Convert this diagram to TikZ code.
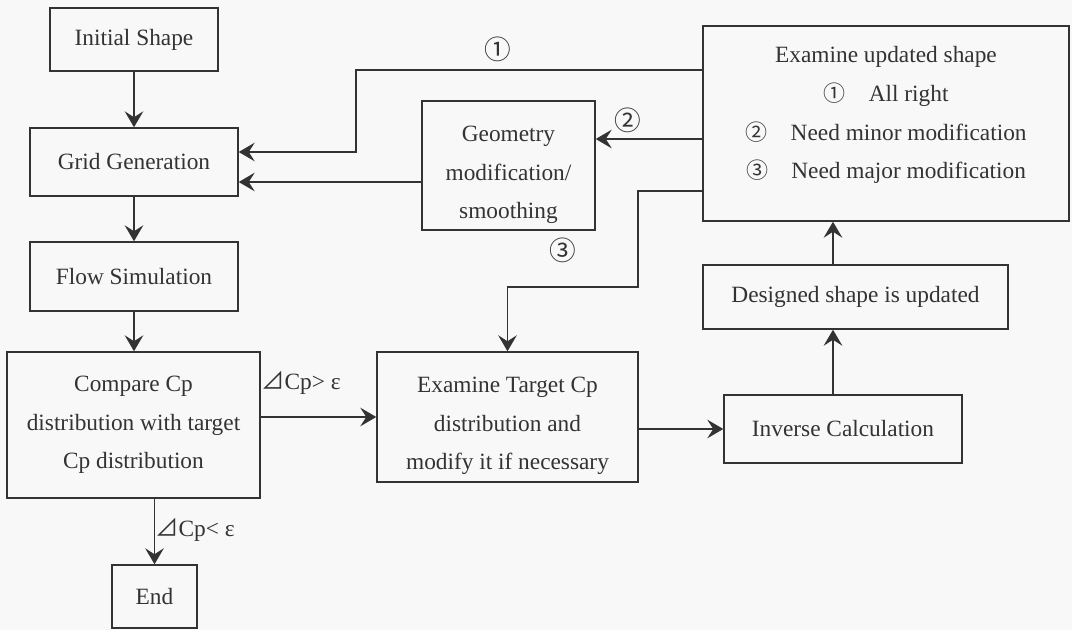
\documentclass[tikz,border=0pt]{standalone}
\usepackage{fontspec}
\setmainfont{Liberation Serif}
\newfontfamily\cjk{Noto Sans CJK SC}
\usetikzlibrary{arrows.meta}
\definecolor{ink}{HTML}{333333}
\definecolor{paper}{HTML}{F8F8F8}
\newcommand{\circd}[1]{{\cjk\fontsize{16.5}{16.5}\selectfont #1}}
\begin{document}
\begin{tikzpicture}[x=0.75pt,y=-0.75pt,
  box/.style={draw=ink, line width=1.1pt, text=ink, align=center, inner sep=0pt,
    font=\fontsize{17.5}{29}\selectfont},
  flowline/.style={draw=ink, line width=1.1pt},
  flowarrow/.style={flowline, -{Stealth[length=12pt,width=14pt,inset=4.5pt]}},
  lab/.style={text=ink, inner sep=0pt, font=\cjk\fontsize{20}{20}\selectfont},
  cond/.style={text=ink, inner sep=0pt, anchor=west, font=\fontsize{17.5}{20}\selectfont}
]
\fill[paper] (0,0) rectangle (1072,630);
\useasboundingbox (0,0) rectangle (1072,630);

% boxes
\node[box, minimum width=126pt, minimum height=47.25pt] (init) at (134,39.5) {Initial Shape};
\node[box, minimum width=156pt, minimum height=51pt] (grid) at (134,162) {Grid Generation};
\node[box, minimum width=156pt, minimum height=51.75pt] (flow) at (134,276.5) {Flow Simulation};
\node[box, minimum width=189.75pt, minimum height=109.5pt] (compare) at (133.5,425)
  {Compare Cp\\distribution with target\\Cp distribution};
\node[box, minimum width=63.75pt, minimum height=47.25pt] (end) at (154.5,596.5) {End};
\node[box, minimum width=129.75pt, minimum height=96.75pt] (geom) at (508.5,165.5)
  {\rule{0pt}{26pt}Geometry\\modification/\\smoothing};
\node[box, minimum width=274.5pt, minimum height=146.25pt] (exam) at (886,123.5)
  {Examine updated shape\\\circd{①}\quad All right\\
   \circd{②}\quad Need minor modification\\
   \circd{③}\quad Need major modification\rule[-16pt]{0pt}{1pt}};
\node[box, minimum width=228.75pt, minimum height=48pt] (designed) at (855.5,297) {Designed shape is updated};
\node[box, minimum width=178.5pt, minimum height=51pt] (inverse) at (843,429) {Inverse Calculation};
\node[box, minimum width=195.75pt, minimum height=97.5pt] (target) at (507.5,417)
  {\rule{0pt}{25pt}Examine Target Cp\\distribution and\\modify it if necessary};

% helper coordinates
\coordinate (y1) at (0,70);
\coordinate (y1b) at (0,152);
\coordinate (x1) at (356,0);
\coordinate (y2) at (0,139);
\coordinate (y3) at (0,182);
\coordinate (y4) at (0,191);
\coordinate (x4) at (638,0);
\coordinate (y5) at (0,287);
\coordinate (vx) at (833,0);

% connectors
\draw[flowarrow] (init) -- (grid);
\draw[flowarrow] (grid) -- (flow);
\draw[flowarrow] (flow) -- (flow.south |- compare.north);
\draw[flowarrow] (end |- compare.south) -- (end);
\draw[flowarrow] (compare.east |- target.west) -- (target.west);
\draw[flowarrow] (target.east |- inverse.west) -- (inverse.west);
\draw[flowarrow] (inverse.north -| vx) -- (designed.south -| vx);
\draw[flowarrow] (designed.north -| vx) -- (exam.south -| vx);
\draw[flowarrow] (exam.west |- y1) -| (x1 |- y1b) -- (grid.east |- y1b);
\draw[flowarrow] (exam.west |- y2) -- (geom.east |- y2);
\draw[flowarrow] (geom.west |- y3) -- (grid.east |- y3);
\draw[flowarrow] (exam.west |- y4) -| (x4 |- y5) -| (target.north);

% labels
\node[lab] (c1) at (498,49) {①};
\node[lab] (c2) at (628,120) {②};
\node[lab] (c3) at (563,250) {③};
\node[cond] (gt) at (261,383) {{\cjk ⊿}Cp> ε};
\node[cond] (lt) at (155,530) {{\cjk ⊿}Cp< ε};
\end{tikzpicture}
\end{document}
